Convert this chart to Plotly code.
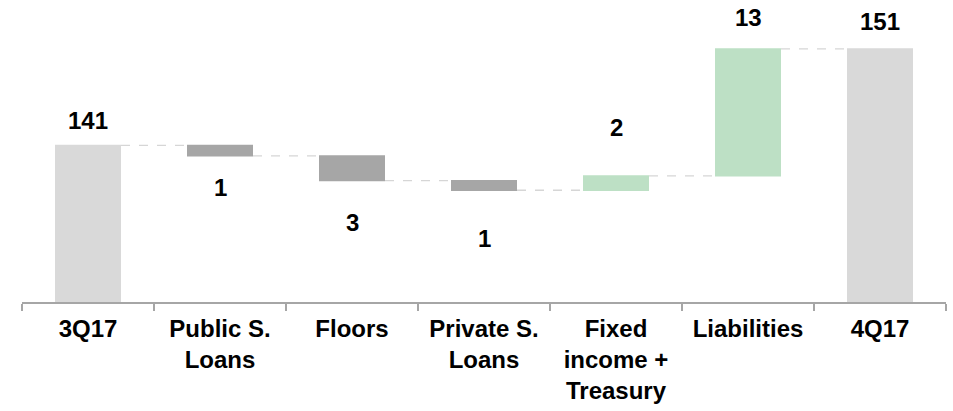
import plotly.graph_objects as go

categories = ["3Q17", "Public S.<br>Loans", "Floors", "Private S.<br>Loans",
              "Fixed<br>income +<br>Treasury", "Liabilities", "4Q17"]
measures = ["absolute", "relative", "relative", "relative", "relative", "relative", "total"]
values = [141.0, -1.1, -2.6, -1.0, 1.5, 13.3, 0]

# running levels for label placement
levels = []
run = 0.0
for m, v in zip(measures, values):
    if m == "absolute":
        start, run = 0.0, v
    elif m == "total":
        start = 0.0
    else:
        start, run = run, run + v
    levels.append((start, run))

label_values = []
for m, v, (s, e) in zip(measures, values, levels):
    label_values.append(e if m in ("absolute", "total") else abs(v))
labels = [f"{x:.0f}" for x in label_values]

# pixel offsets of labels from bar ends (style)
label_offsets = [25, -32, -42, -48, 48, 31, 27]

FONT = "Liberation Sans, Arial, sans-serif"
TOTAL_C = "#D9D9D9"
DEC_C = "#A6A6A6"
INC_C = "#BDE0C5"

fig = go.Figure(go.Waterfall(
    x=categories,
    y=values,
    measure=measures,
    width=0.5,
    totals=dict(marker=dict(color=TOTAL_C)),
    decreasing=dict(marker=dict(color=DEC_C)),
    increasing=dict(marker=dict(color=INC_C)),
    connector=dict(mode="between", line=dict(color="#D6D6D6", width=1.3, dash="dash")),
    textinfo="none",
    hoverinfo="skip",
))

for i, (s, e) in enumerate(levels):
    fig.add_annotation(
        x=categories[i], y=e, text=labels[i], showarrow=False,
        yanchor="middle", xanchor="center", yshift=label_offsets[i],
        borderpad=0,
        font=dict(family=FONT, size=24, color="#000000", weight="bold"),
    )

y0 = 124.6
plot_h = 302
fig.update_layout(
    width=953, height=411,
    margin=dict(l=22, r=7, t=0, b=109),
    plot_bgcolor="white", paper_bgcolor="white",
    showlegend=False,
    xaxis=dict(
        type="category",
        categoryorder="array", categoryarray=categories,
        range=[-0.5, len(categories) - 0.5],
        showline=True, linecolor="#A6A6A6", linewidth=2,
        ticks="outside", tickson="boundaries", ticklen=7,
        tickcolor="#A6A6A6", tickwidth=1.5,
        ticklabelstandoff=4,
        showgrid=False, zeroline=False,
        tickfont=dict(family=FONT, size=24, color="#000000", weight="bold"),
    ),
    yaxis=dict(
        range=[y0, y0 + plot_h / 9.55],
        visible=False, showgrid=False, zeroline=False,
    ),
)

fig.write_html("out.html", config={"displayModeBar": False},
               post_script="document.body.style.margin='0px';")
